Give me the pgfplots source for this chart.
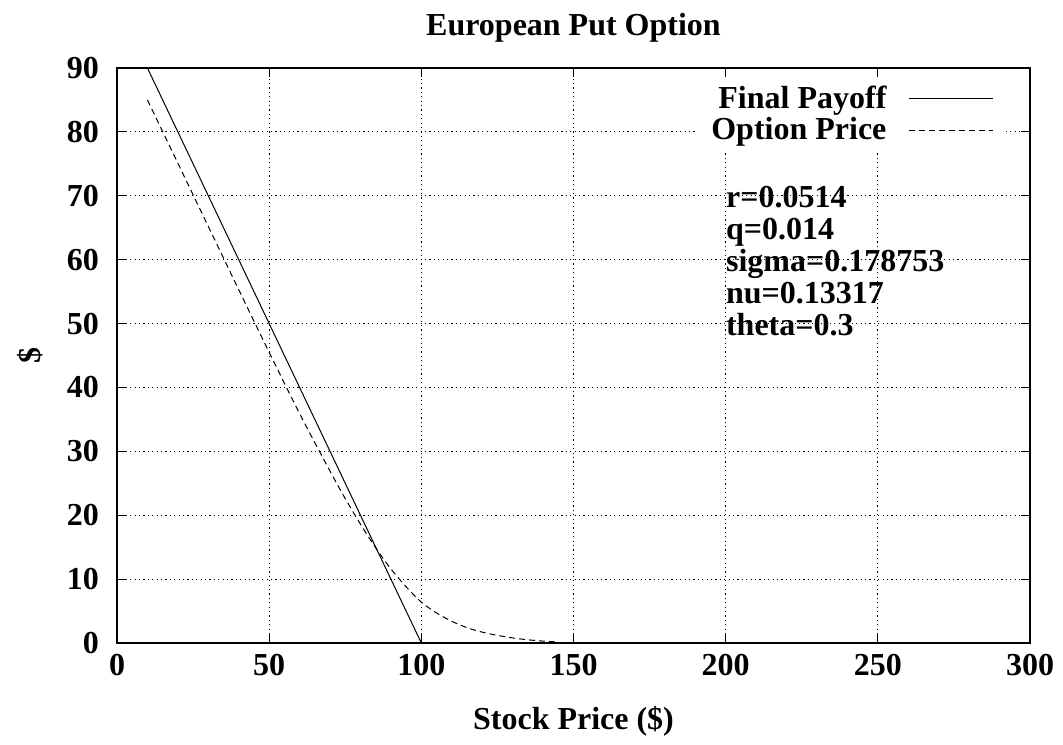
\documentclass[border=0pt]{standalone}
\usepackage{pgfplots}
\pgfplotsset{compat=1.18}
\usepackage{fontspec}
\setmainfont{Liberation Serif}
\newcommand{\gfont}{\fontsize{16}{16}\selectfont\bfseries}
\begin{document}
\begin{tikzpicture}
\useasboundingbox (-58.5pt,-50.5pt) rectangle (473pt,321.5pt);
\begin{axis}[
  at={(0pt,0pt)}, anchor=south west,
  scale only axis,
  width=456.5pt, height=287.5pt,
  xmin=0, xmax=300, ymin=0, ymax=90,
  xtick={0,50,...,300}, ytick={0,10,...,90},
  tick align=inside,
  major tick length=4.5pt,
  tick style={black, line width=0.6pt},
  axis line style={line width=1pt},
  grid=major,
  major grid style={black, line width=0.4pt, dash pattern=on 0.6pt off 1.6pt},
  /pgf/number format/assume math mode=true,
  ticklabel style={font=\gfont},
  xticklabel style={yshift=-2pt},
  yticklabel style={xshift=-5.5pt},
  title={European Put Option},
  title style={font=\gfont, at={(axis description cs:0.5,1.049)}, anchor=center, yshift=0pt},
  xlabel={Stock Price (\$)},
  xlabel style={font=\gfont, at={(axis description cs:0.5,-0.137)}, anchor=center},
  ylabel={\$},
  ylabel style={font=\gfont, at={(axis description cs:-0.0953,0.5)}, anchor=center},
  legend cell align=right,
  legend plot pos=right,
  legend image code/.code={\draw[#1] (0pt,0pt) -- (42pt,0pt);},
  legend style={font=\gfont, at={(axis description cs:0.9735,0.983)}, anchor=north east,
    fill=white, draw=none, inner xsep=6pt, inner ysep=2pt, column sep=9pt, row sep=-1pt},
]
% final payoff
\addplot[black, line width=0.5pt] coordinates {(10,90) (100,0) (150,0)};
\addlegendentry{Final Payoff}
% option price
\addplot[black, line width=0.5pt, dash pattern=on 3pt off 2pt, smooth] coordinates {
(10,85.0) (20,75.1) (30,65.2) (40,55.3) (50,45.5) (60,35.9) (70,26.9) (75,22.6)
(80,18.6) (85,14.9) (90,11.6) (95,8.8) (100,6.4) (105,4.7) (110,3.4) (115,2.4)
(120,1.7) (125,1.2) (130,0.8) (135,0.5) (140,0.3) (145,0.15)};
\addlegendentry{Option Price}
\node[anchor=north west, align=left, inner sep=0pt, font=\gfont]
  at (axis cs:200,71.5) {r=0.0514\\q=0.014\\sigma=0.178753\\nu=0.13317\\theta=0.3};
\end{axis}
\end{tikzpicture}
\end{document}
